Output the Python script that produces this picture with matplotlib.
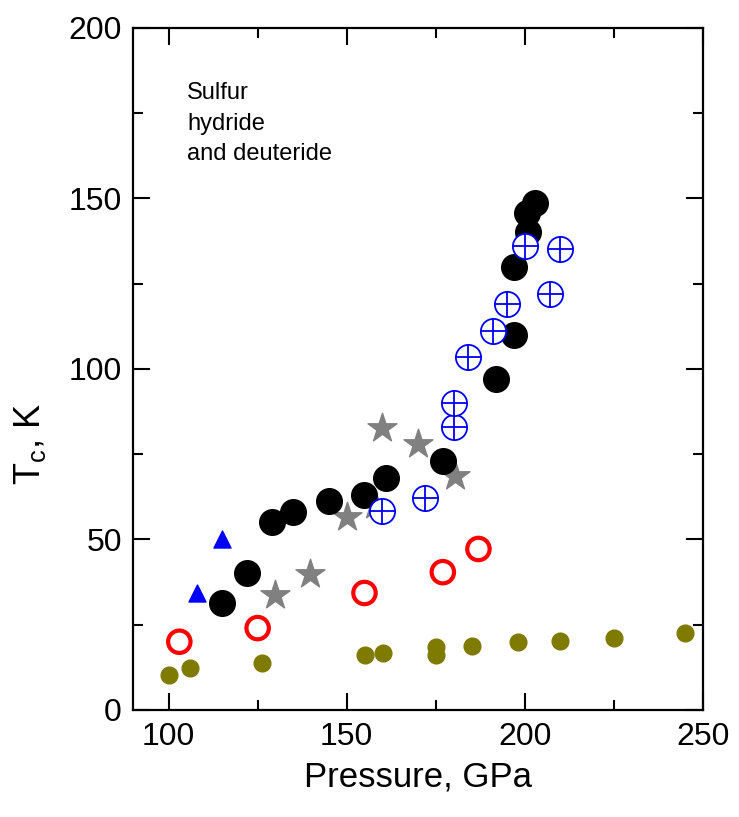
import matplotlib.pyplot as plt
from matplotlib.ticker import MultipleLocator

plt.rcParams['font.family'] = ['Liberation Sans', 'DejaVu Sans']
plt.rcParams['mathtext.default'] = 'regular'

# black filled circles
black_p = [115, 122, 129, 135, 145, 155, 161, 177, 192, 197, 197, 201, 200.7, 203]
black_t = [31.4, 40.2, 55.1, 58, 61.2, 63, 68, 73, 97, 110, 130, 140, 145.7, 148.6]

# blue crossed circles
blue_p = [160, 172, 180, 180, 184, 191, 195, 207, 200, 210]
blue_t = [58.3, 62, 83, 90, 103.5, 111, 119, 122, 136, 135]

# grey stars
star_p = [130, 139.7, 150, 158, 160, 170, 180.4]
star_t = [33.7, 40, 56.5, 60, 82.6, 78, 68.6]

# blue triangles
tri_p = [108, 115]
tri_t = [34.3, 50]

# red open circles
red_p = [103, 125, 155, 177, 187]
red_t = [20, 24, 34.3, 40.4, 47.2]

# olive dots
olive_p = [100, 106, 126.3, 155.2, 160.2, 175, 175, 185.2, 198, 210, 225, 245]
olive_t = [10.3, 12.3, 13.8, 16.1, 16.7, 18.5, 16.1, 18.8, 20, 20.2, 21.1, 22.5]

fig = plt.figure(figsize=(7.39, 8.17), dpi=100)
ax = fig.add_axes([0.18, 0.131, 0.771, 0.835])

ax.scatter(olive_p, olive_t, s=145, color='#7f7a00', zorder=2)
ax.scatter(red_p, red_t, s=260, facecolors='none', edgecolors='red', linewidths=3, zorder=3)
ax.scatter(tri_p, tri_t, s=150, marker='^', color='blue', zorder=3)
ax.scatter(star_p, star_t, s=480, marker='*', color='#808080', zorder=3)
ax.scatter(black_p, black_t, s=340, color='black', zorder=4)
ax.scatter(blue_p, blue_t, s=330, facecolors='white', edgecolors='blue', linewidths=1.3, zorder=5)
ax.scatter(blue_p, blue_t, s=330, marker='+', color='blue', linewidths=1.3, zorder=6)

ax.set_xlim(90, 250)
ax.set_ylim(0, 200)
ax.xaxis.set_major_locator(MultipleLocator(50))
ax.xaxis.set_minor_locator(MultipleLocator(25))
ax.yaxis.set_major_locator(MultipleLocator(50))
ax.yaxis.set_minor_locator(MultipleLocator(25))
ax.tick_params(which='both', direction='in', top=True, right=True, width=1.5, labelsize=23)
ax.tick_params(which='major', length=12)
ax.tick_params(which='minor', length=7)
ax.tick_params(axis='x', pad=9)
ax.tick_params(axis='y', pad=8)
for s in ax.spines.values():
    s.set_linewidth(1.6)

ax.set_xlabel('Pressure, GPa', fontsize=25, labelpad=6)
ax.set_ylabel('$T_c$, K', fontsize=26)
ax.yaxis.set_label_coords(-0.15, 0.39)

ax.text(0.095, 0.92, 'Sulfur\nhydride\nand deuteride', transform=ax.transAxes,
        fontsize=17, va='top', ha='left', linespacing=1.5)

fig.savefig('out.png', dpi=100)
